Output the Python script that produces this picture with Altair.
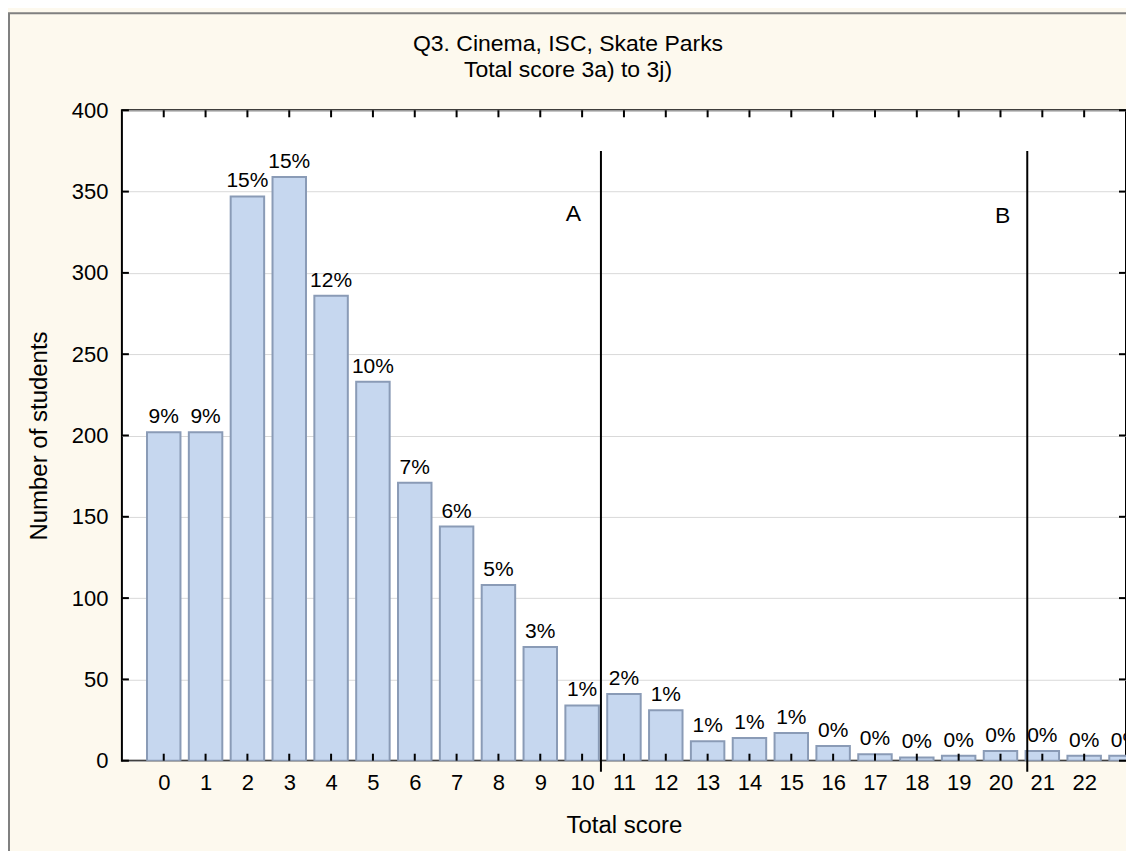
import altair as alt
import pandas as pd

# ---- data ----
scores = list(range(24))
counts = [202, 202, 347, 359, 286, 233, 171, 144, 108, 70, 34, 41, 31, 12, 14, 17, 9, 4, 2, 3, 6, 6, 3, 3]
pct_labels = ["9%", "9%", "15%", "15%", "12%", "10%", "7%", "6%", "5%", "3%", "1%", "2%",
              "1%", "1%", "1%", "1%", "0%", "0%", "0%", "0%", "0%", "0%", "0%", "0%"]
tick_values = list(range(23))
y_ticks = [0, 50, 100, 150, 200, 250, 300, 350, 400]
cut_names = ["A", "B"]
cut_pos = [10.45, 20.64]
cut_top = [375, 375]
cut_label_x = [9.79, 20.05]
cut_label_y = [336, 335]
title_line1 = "Q3. Cinema, ISC, Skate Parks"
title_line2 = "Total score 3a) to 3j)"

W, H = 1005, 651
FONT = "Liberation Sans"

df = pd.DataFrame({"score": scores, "count": counts, "pct": pct_labels})
df["x1"] = df["score"] - 0.4
df["x2"] = df["score"] + 0.4
df["zero"] = 0
cuts = pd.DataFrame({"name": cut_names, "pos": cut_pos, "top": cut_top,
                     "lx": cut_label_x, "ly": cut_label_y})
xt = pd.DataFrame({"v": tick_values})
yt = pd.DataFrame({"v": y_ticks})
one = pd.DataFrame({"t1": [title_line1], "t2": [title_line2]})

xscale = alt.Scale(domain=[-1, 23], nice=False, zero=False)
yscale = alt.Scale(domain=[0, 400], nice=False)

xaxis = alt.Axis(values=tick_values, title="Total score", tickSize=0, labelPadding=12,
                 labelFontSize=22, titleFontSize=24, titlePadding=20, grid=False,
                 domain=False, labelColor="#000", titleColor="#000", titleFontWeight="normal",
                 labelFont=FONT, titleFont=FONT, labelFlush=False)
yaxis = alt.Axis(values=y_ticks, title="Number of students", tickSize=0, labelPadding=14,
                 labelFontSize=22, titleFontSize=24, titlePadding=20, grid=True,
                 gridColor="#D9D9D9", gridWidth=1, domain=False, labelColor="#000",
                 titleColor="#000", titleFontWeight="normal", labelFont=FONT, titleFont=FONT)

bars = alt.Chart(df).mark_bar(fill="#C6D7EF", stroke="#8A9BB6", strokeWidth=2, clip=True).encode(
    x=alt.X("x1:Q", scale=xscale, axis=xaxis),
    x2="x2:Q",
    y=alt.Y("count:Q", scale=yscale, axis=yaxis),
    y2="zero:Q",
)

labels = alt.Chart(df).mark_text(fontSize=21, font=FONT, baseline="alphabetic", dy=-9,
                                 color="#000", clip=True).encode(
    x=alt.X("score:Q", scale=xscale),
    y=alt.Y("count:Q", scale=yscale),
    text="pct:N",
)

cut_rules = alt.Chart(cuts).mark_rule(color="#000", strokeWidth=2).encode(
    x=alt.X("pos:Q", scale=xscale),
    y=alt.Y("top:Q", scale=yscale),
    y2=alt.value(H + 11),
)

cut_text = alt.Chart(cuts).mark_text(fontSize=23, font=FONT, color="#000").encode(
    x=alt.X("lx:Q", scale=xscale),
    y=alt.Y("ly:Q", scale=yscale),
    text="name:N",
)

bottom_ticks = alt.Chart(xt).mark_rule(color="#000", strokeWidth=2).encode(
    x=alt.X("v:Q", scale=xscale), y=alt.value(H), y2=alt.value(H - 7))
top_ticks = alt.Chart(xt).mark_rule(color="#000", strokeWidth=2).encode(
    x=alt.X("v:Q", scale=xscale), y=alt.value(0), y2=alt.value(7))
left_ticks = alt.Chart(yt).mark_rule(color="#000", strokeWidth=2).encode(
    y=alt.Y("v:Q", scale=yscale), x=alt.value(0), x2=alt.value(7))
right_ticks = alt.Chart(yt).mark_rule(color="#000", strokeWidth=2).encode(
    y=alt.Y("v:Q", scale=yscale), x=alt.value(W - 7), x2=alt.value(W))

title1 = alt.Chart(one).mark_text(fontSize=23, font=FONT, color="#000").encode(
    x=alt.value(W / 2 - 56), y=alt.value(-66), text="t1:N")
title2 = alt.Chart(one).mark_text(fontSize=23, font=FONT, color="#000").encode(
    x=alt.value(W / 2 - 56), y=alt.value(-40), text="t2:N")

outer = alt.Chart(one).mark_rect(fill="transparent", stroke="#808080", strokeWidth=2).encode(
    x=alt.value(-113), y=alt.value(-97), x2=alt.value(W + 60), y2=alt.value(H + 200))

chart = alt.layer(
    outer, bars, labels, cut_rules, cut_text,
    bottom_ticks, top_ticks, left_ticks, right_ticks, title1, title2,
).properties(
    width=W, height=H,
    autosize=alt.AutoSizeParams(type="none"),
    padding={"left": 114, "top": 102, "right": 0, "bottom": 90},
    background="#FDF9EE",
).configure_view(
    stroke="#000", strokeWidth=2, fill="#FFFFFF"
)

chart.save("out.html", embed_options={"renderer": "svg", "actions": False})
